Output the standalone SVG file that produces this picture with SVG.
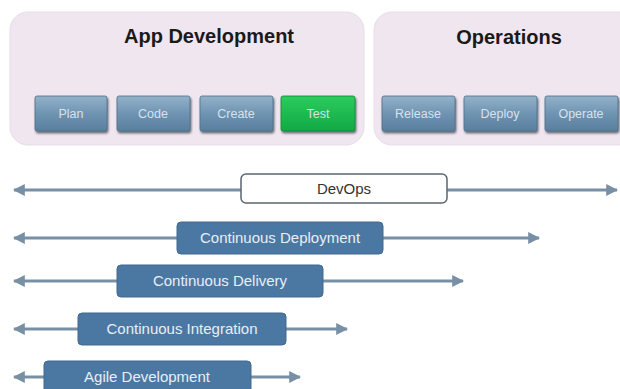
<svg xmlns="http://www.w3.org/2000/svg" width="620" height="389" viewBox="0 0 620 389">
<defs>
<linearGradient id="btn" x1="0" y1="0" x2="0" y2="1">
<stop offset="0" stop-color="#93b2c9"/>
<stop offset="0.5" stop-color="#6f94b2"/>
<stop offset="1" stop-color="#5a7f9e"/>
</linearGradient>
<linearGradient id="grn" x1="0" y1="0" x2="0" y2="1">
<stop offset="0" stop-color="#2ccc5e"/>
<stop offset="1" stop-color="#12a844"/>
</linearGradient>
<filter id="sh" x="-10%" y="-10%" width="130%" height="140%">
<feDropShadow dx="1" dy="2" stdDeviation="1.2" flood-color="#2a3440" flood-opacity="0.7"/>
</filter>
<marker id="ah" viewBox="0 0 10 10" refX="9" refY="5" markerWidth="4" markerHeight="4" orient="auto-start-reverse">
<path d="M0,0 L10,5 L0,10 z" fill="#7890a6"/>
</marker>
</defs>
<style>
.panel{fill:#f0e6f0;stroke:#e6dde8;stroke-width:1}
.title{font-family:"Liberation Sans",Arial,sans-serif;font-weight:bold;font-size:20px;fill:#1a1a1a;text-anchor:middle}
.btn{fill:url(#btn);stroke:#4e6f8a;stroke-width:0.8;filter:url(#sh)}
.btnt{font-family:"Liberation Sans",Arial,sans-serif;font-size:12.5px;fill:#d6e2ec;text-anchor:middle}
.line{stroke:#7890a6;stroke-width:3;fill:none;marker-start:url(#ah);marker-end:url(#ah)}
.box{fill:#4b78a3;stroke:#42698f;stroke-width:1}
.boxt{font-family:"Liberation Sans",Arial,sans-serif;font-size:15px;fill:#e8eef5;text-anchor:middle}
.dev{fill:#ffffff;stroke:#5a6670;stroke-width:1.5}
.devt{font-family:"Liberation Sans",Arial,sans-serif;font-size:15px;fill:#333;text-anchor:middle}
</style>
<rect width="620" height="389" fill="#ffffff"/>
<g id="app-development">
<rect class="panel" x="10" y="12" width="354" height="133" rx="18"/>
<text class="title" x="209" y="43">App Development</text>
</g>
<g id="operations">
<rect class="panel" x="374" y="12" width="262" height="133" rx="18"/>
<text class="title" x="509" y="44">Operations</text>
</g>
<g id="plan"><rect class="btn" x="35" y="96" width="72" height="35" rx="2"/><text class="btnt" x="71" y="118">Plan</text></g>
<g id="code"><rect class="btn" x="117" y="96" width="73" height="35" rx="2"/><text class="btnt" x="153" y="118">Code</text></g>
<g id="create"><rect class="btn" x="200" y="96" width="73" height="35" rx="2"/><text class="btnt" x="236" y="118">Create</text></g>
<g id="test"><rect x="281" y="96" width="74" height="35" rx="2" fill="url(#grn)" stroke="#0f8a38" stroke-width="0.8" filter="url(#sh)"/><text class="btnt" x="318" y="118" fill="#e6f7ea">Test</text></g>
<g id="release"><rect class="btn" x="382" y="96" width="73" height="35" rx="2"/><text class="btnt" x="418" y="118">Release</text></g>
<g id="deploy"><rect class="btn" x="464" y="96" width="73" height="35" rx="2"/><text class="btnt" x="500" y="118">Deploy</text></g>
<g id="operate"><rect class="btn" x="545" y="96" width="73" height="35" rx="2"/><text class="btnt" x="581" y="118">Operate</text></g>
<g id="connectors">
<line class="line" x1="14" y1="190" x2="617" y2="190"/>
<line class="line" x1="14" y1="238" x2="539" y2="238"/>
<line class="line" x1="14" y1="281" x2="463" y2="281"/>
<line class="line" x1="14" y1="329" x2="347" y2="329"/>
<line class="line" x1="14" y1="377" x2="300" y2="377"/>
</g>
<g id="devops"><rect class="dev" x="241" y="174" width="206" height="29" rx="5"/><text class="devt" x="344" y="194">DevOps</text></g>
<g id="continuous-deployment"><rect class="box" x="177" y="222" width="206" height="32" rx="4"/><text class="boxt" x="280" y="243">Continuous Deployment</text></g>
<g id="continuous-delivery"><rect class="box" x="117" y="265" width="206" height="32" rx="4"/><text class="boxt" x="220" y="286">Continuous Delivery</text></g>
<g id="continuous-integration"><rect class="box" x="78" y="313" width="208" height="32" rx="4"/><text class="boxt" x="182" y="334">Continuous Integration</text></g>
<g id="agile-development"><rect class="box" x="44" y="361" width="207" height="34" rx="4"/><text class="boxt" x="147" y="382">Agile Development</text></g>
</svg>
